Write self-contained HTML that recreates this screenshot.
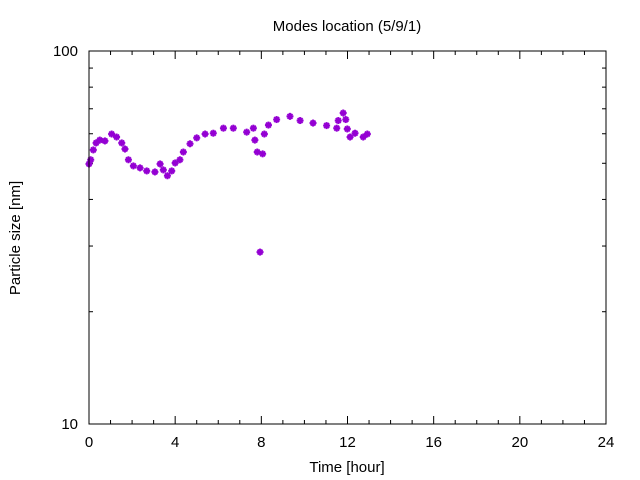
<!DOCTYPE html>
<html><head><meta charset="utf-8"><style>
body{margin:0;background:#fff}
svg{display:block;font-family:"Liberation Sans",sans-serif}
</style></head><body>
<svg id="chart" width="640" height="480">
<rect width="640" height="480" fill="#fff"/>
<text x="347" y="31" font-size="15" text-anchor="middle">Modes location (5/9/1)</text>
<text x="347" y="472" font-size="15" text-anchor="middle">Time [hour]</text>
<text transform="translate(20,238) rotate(-90)" font-size="15" text-anchor="middle">Particle size [nm]</text>
<g id="axes"></g>
<g id="marks"></g>
<rect x="89" y="51" width="517" height="373" fill="none" stroke="#000" stroke-width="1"/>
</svg>
<script>
const times=[0,0.08,0.2,0.33,0.5,0.74,1.05,1.28,1.52,1.67,1.83,2.06,2.37,2.68,3.06,3.3,3.45,3.64,3.84,4.0,4.22,4.38,4.69,5.0,5.39,5.77,6.24,6.7,7.32,7.63,7.7,7.81,7.94,8.06,8.14,8.33,8.71,9.33,9.8,10.4,11.03,11.5,11.57,11.8,11.92,11.99,12.12,12.35,12.73,12.92];
const sizes=[49.8,51.1,54.3,56.7,57.7,57.4,59.9,58.8,56.7,54.6,51.1,49.2,48.6,47.7,47.4,49.8,48.0,46.3,47.7,50.1,51.1,53.6,56.4,58.5,59.9,60.2,62.1,62.1,60.6,62.1,57.7,53.6,28.9,53.0,59.9,63.3,65.5,66.8,65.1,64.1,63.1,62.1,65.1,68.2,65.5,61.8,58.8,60.2,58.8,59.9];
const xTicks=[0,4,8,12,16,20,24];
const yTicks=[10,100];
const X0=89,X1=606,Y0=424,Y1=51;
function xs(t){return X0+(t-0)/24*(X1-X0);}
function ys(v){return Y0-(Math.log10(v)-1)*(Y0-Y1);}
const NS="http://www.w3.org/2000/svg";
const ax=document.getElementById('axes'),mk=document.getElementById('marks');
function line(p,x1,y1,x2,y2,name){const l=document.createElementNS(NS,'line');l.setAttribute('x1',x1);l.setAttribute('y1',y1);l.setAttribute('x2',x2);l.setAttribute('y2',y2);l.setAttribute('stroke','#000');


p.appendChild(l);}
function txt(x,y,s,anchor,name){const t=document.createElementNS(NS,'text');t.setAttribute('x',x);t.setAttribute('y',y);t.setAttribute('font-size','15');t.setAttribute('text-anchor',anchor);t.textContent=s;


ax.appendChild(t);}
for(let h=0;h<=24;h++){const x=xs(h);const L=(h%4===0)?8:4;line(ax,x,Y0,x,Y0-L,'x-tick');line(ax,x,Y1,x,Y1+L,'x-tick-top');}
xTicks.forEach(h=>txt(xs(h),447,String(h),'middle','x-tick-label'));
for(let v=10;v<=100;v+=10){const y=ys(v);const L=(v===10||v===100)?8:4;line(ax,X0,y,X0+L,y,'y-tick');line(ax,X1,y,X1-L,y,'y-tick-right');}
yTicks.forEach(v=>txt(78,ys(v)+5,String(v),'end','y-tick-label'));
times.forEach((t,i)=>{const g=document.createElementNS(NS,'g');const cx=xs(t),cy=ys(sizes[i]);


g.setAttribute('stroke','#9400d3');g.setAttribute('stroke-width','2');
const r=3.5;
[[-r,0,r,0],[0,-r,0,r],[-r*0.7,-r*0.7,r*0.7,r*0.7],[-r*0.7,r*0.7,r*0.7,-r*0.7]].forEach(s=>{const l=document.createElementNS(NS,'line');l.setAttribute('x1',cx+s[0]);l.setAttribute('y1',cy+s[1]);l.setAttribute('x2',cx+s[2]);l.setAttribute('y2',cy+s[3]);g.appendChild(l);});
mk.appendChild(g);});
</script>
</body></html>
